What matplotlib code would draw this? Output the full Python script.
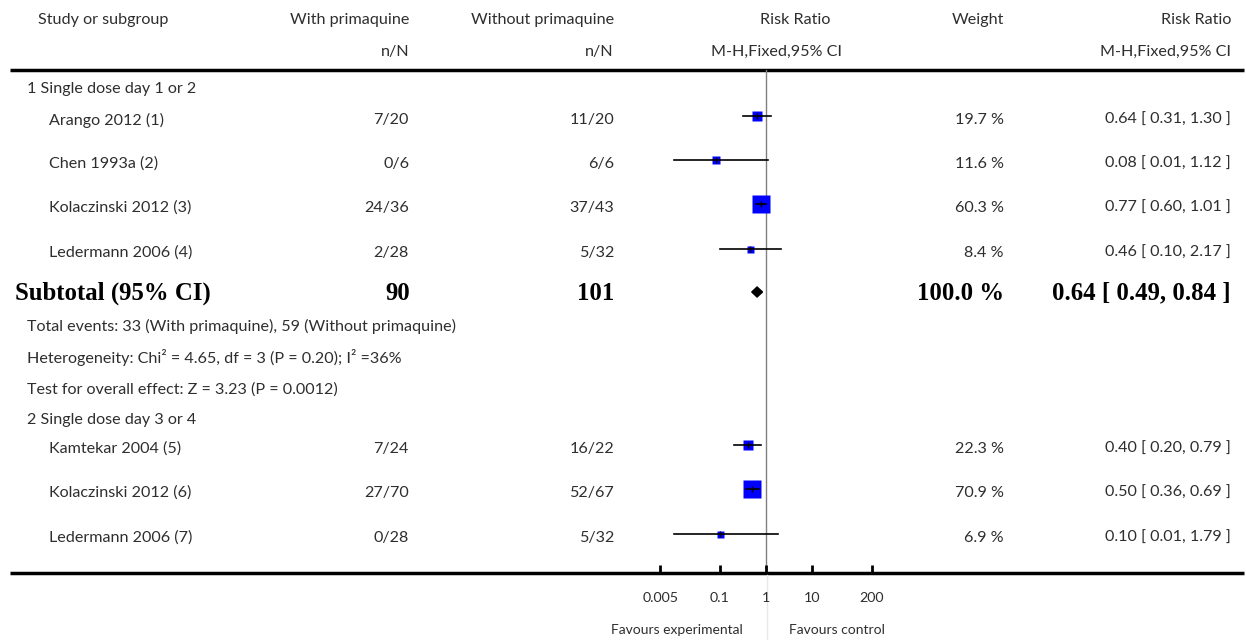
import numpy as np
import matplotlib
matplotlib.use("Agg")
import matplotlib.pyplot as plt

# study rows, subgroup 1
studies_1 = ["Arango 2012 (1)", "Chen 1993a (2)", "Kolaczinski 2012 (3)", "Ledermann 2006 (4)"]
with_1 = ["7/20", "0/6", "24/36", "2/28"]
without_1 = ["11/20", "6/6", "37/43", "5/32"]
rr_1 = [0.64, 0.08, 0.77, 0.46]
lo_1 = [0.31, 0.01, 0.60, 0.10]
hi_1 = [1.30, 1.12, 1.01, 2.17]
weight_1 = [19.7, 11.6, 60.3, 8.4]

# subtotal for subgroup 1
sub_n = ["90", "101"]
sub_rr, sub_lo, sub_hi = 0.64, 0.49, 0.84
sub_weight = 100.0
sub_notes = [
    "Total events: 33 (With primaquine), 59 (Without primaquine)",
    "Heterogeneity: Chi\u00b2 = 4.65, df = 3 (P = 0.20); I\u00b2 =36%",
    "Test for overall effect: Z = 3.23 (P = 0.0012)",
]

# study rows, subgroup 2
studies_2 = ["Kamtekar 2004 (5)", "Kolaczinski 2012 (6)", "Ledermann 2006 (7)"]
with_2 = ["7/24", "27/70", "0/28"]
without_2 = ["16/22", "52/67", "5/32"]
rr_2 = [0.40, 0.50, 0.10]
lo_2 = [0.20, 0.36, 0.01]
hi_2 = [0.79, 0.69, 1.79]
weight_2 = [22.3, 70.9, 6.9]

groups = ["1 Single dose day 1 or 2", "2 Single dose day 3 or 4"]
tick_vals = [0.005, 0.1, 1, 10, 200]
tick_labels = ["0.005", "0.1", "1", "10", "200"]

W, H = 1246, 640
FONT = "Lato"
TXT = "#2e2e2e"
FS = 11.6

fig = plt.figure(figsize=(W / 100, H / 100), dpi=100)
ax = fig.add_axes([0, 0, 1, 1])
ax.set_xlim(0, W)
ax.set_ylim(H, 0)
ax.axis("off")

# forest panel: 46 px per decade, x = 1 at 766 px
px_left, px_right, px_one, dec = 620, 920, 766, 46.0
y_top, y_bot = 70, 573
fx = fig.add_axes([px_left / W, 1 - y_bot / H, (px_right - px_left) / W, (y_bot - y_top) / H])
fx.set_xscale("log")
fx.set_xlim(10 ** ((px_left - px_one) / dec), 10 ** ((px_right - px_one) / dec))
fx.set_ylim(y_bot, y_top)
fx.patch.set_alpha(0)
for s in fx.spines.values():
    s.set_visible(False)
fx.set_yticks([])
fx.minorticks_off()
fx.set_xticks(tick_vals)
fx.set_xticklabels(tick_labels, fontfamily=FONT, fontsize=10.3, color=TXT)
fx.tick_params(axis="x", direction="in", length=6, width=2, pad=14, color="black")
fx.axvline(1, color="#808080", lw=1, zorder=1)


def txt(x, y, s, ha="left", **kw):
    kw.setdefault("fontfamily", FONT)
    kw.setdefault("fontsize", FS)
    kw.setdefault("color", TXT)
    ax.text(x, y, s, ha=ha, va="center", **kw)


# header
txt(103, 20, "Study or subgroup", ha="center")
txt(409, 20, "With primaquine", ha="right")
txt(614, 20, "Without primaquine", ha="right")
txt(830, 20, "Risk Ratio", ha="right")
txt(1004, 20, "Weight", ha="right")
txt(1231, 20, "Risk Ratio", ha="right")
txt(409, 52, "n/N", ha="right")
txt(614, 52, "n/N", ha="right")
txt(842, 52, "M-H,Fixed,95% CI", ha="right")
txt(1231, 52, "M-H,Fixed,95% CI", ha="right")

ax.plot([10, 1244], [y_top, y_top], color="black", lw=2.5, solid_capstyle="butt")
ax.plot([10, 1244], [y_bot, y_bot], color="black", lw=2.5, solid_capstyle="butt")
ax.plot([767, 767], [y_bot + 2, H], color="#e8e8e8", lw=1)


def study_rows(ys, names, wn, won, rr, lo, hi, wt):
    for y, n, a, b, r, l, h, w in zip(ys, names, wn, won, rr, lo, hi, wt):
        ty = y + 4
        txt(49, ty, n)
        txt(409, ty, a, ha="right")
        txt(614, ty, b, ha="right")
        txt(1004, ty, f"{w:.1f} %", ha="right")
        txt(1231, ty, f"{r:.2f} [ {l:.2f}, {h:.2f} ]", ha="right")
        side = max(7.0, 2.2 * np.sqrt(w))
        fx.plot([r], [y], marker="s", ms=side * 0.72, mfc="#0000ff", mec="none",
                ls="none", zorder=3)
        fx.plot([l, h], [y, y], color="black", lw=1.2, zorder=4)
        fx.plot([r], [y], marker="|", ms=5, mew=1, color="black", zorder=5)


# subgroup 1
txt(27, 89, groups[0])
study_rows([116, 160, 204, 249], studies_1, with_1, without_1, rr_1, lo_1, hi_1, weight_1)

ys = 293
bold = dict(fontfamily="Liberation Serif", fontsize=17.8, fontweight="bold", color="black")
txt(15, ys, "Subtotal (95% CI)", **bold)
txt(410, ys, sub_n[0], ha="right", **bold)
txt(614, ys, sub_n[1], ha="right", **bold)
txt(1004, ys, f"{sub_weight:.1f} %", ha="right", **bold)
txt(1231, ys, f"{sub_rr:.2f} [ {sub_lo:.2f}, {sub_hi:.2f} ]", ha="right", **bold)
dx = [sub_lo, sub_rr, sub_hi, sub_rr]
dy = [ys - 1, ys - 6, ys - 1, ys + 4]
fx.fill(dx, dy, color="black", zorder=4)

for y, s in zip([326, 358, 390], sub_notes):
    txt(27, y, s)

# subgroup 2
txt(27, 420, groups[1])
study_rows([445, 489, 534], studies_2, with_2, without_2, rr_2, lo_2, hi_2, weight_2)

txt(743, 630, "Favours experimental", ha="right", fontsize=10)
txt(789, 630, "Favours control", fontsize=10)

fig.savefig("out.png", dpi=100)
